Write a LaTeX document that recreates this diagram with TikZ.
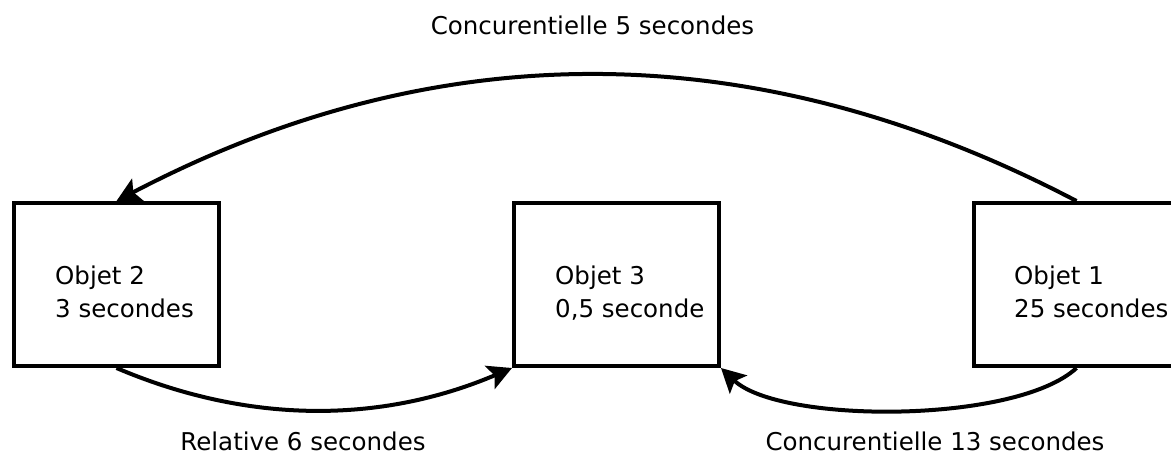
\documentclass[tikz,border=0pt]{standalone}
\usepackage{fontspec}
\setmainfont{DejaVu Sans}
\usetikzlibrary{arrows.meta}
\begin{document}
\begin{tikzpicture}[x=1pt,y=-1pt,
  objbox/.style={draw,line width=4pt,minimum width=205pt,minimum height=163pt,inner sep=0pt},
  objtext/.style={anchor=base west,align=left,inner sep=0pt,font=\fontsize{24.5}{33}\selectfont},
  lbl/.style={inner sep=0pt,anchor=base,font=\fontsize{24.5}{33}\selectfont},
  conn/.style={line width=4pt,-{Stealth[length=24pt,width=25pt,inset=5pt]}}]
\path[use as bounding box,clip] (0,0) rectangle (1171,454);
\fill[white] (0,0) rectangle (1171,454);
\node[objbox] (o2) at (116.5,284.5) {};
\node[objbox] (o3) at (616.5,284.5) {};
\node[objbox] (o1) at (1076.5,284.5) {};
\node[objtext] (t2) at (55,318) {Objet 2\\3 secondes};
\node[objtext] (t3) at (555,318) {Objet 3\\0,5 seconde};
\node[objtext] (t1) at (1014,318) {Objet 1\\25 secondes};
\draw[conn] (o1.north) .. controls (756,33) and (437,33) .. (o2.north);
\draw[conn] (o2.south) .. controls (248,424) and (380,424) .. (o3.south west);
\draw[conn] (o1.south) .. controls (1016,424) and (780,424) .. (o3.south east);
\node[lbl] (l1) at (592.5,35) {Concurentielle 5 secondes};
\node[lbl] (l2) at (303,450) {Relative 6 secondes};
\node[lbl] (l3) at (935,450) {Concurentielle 13 secondes};
\end{tikzpicture}
\end{document}
